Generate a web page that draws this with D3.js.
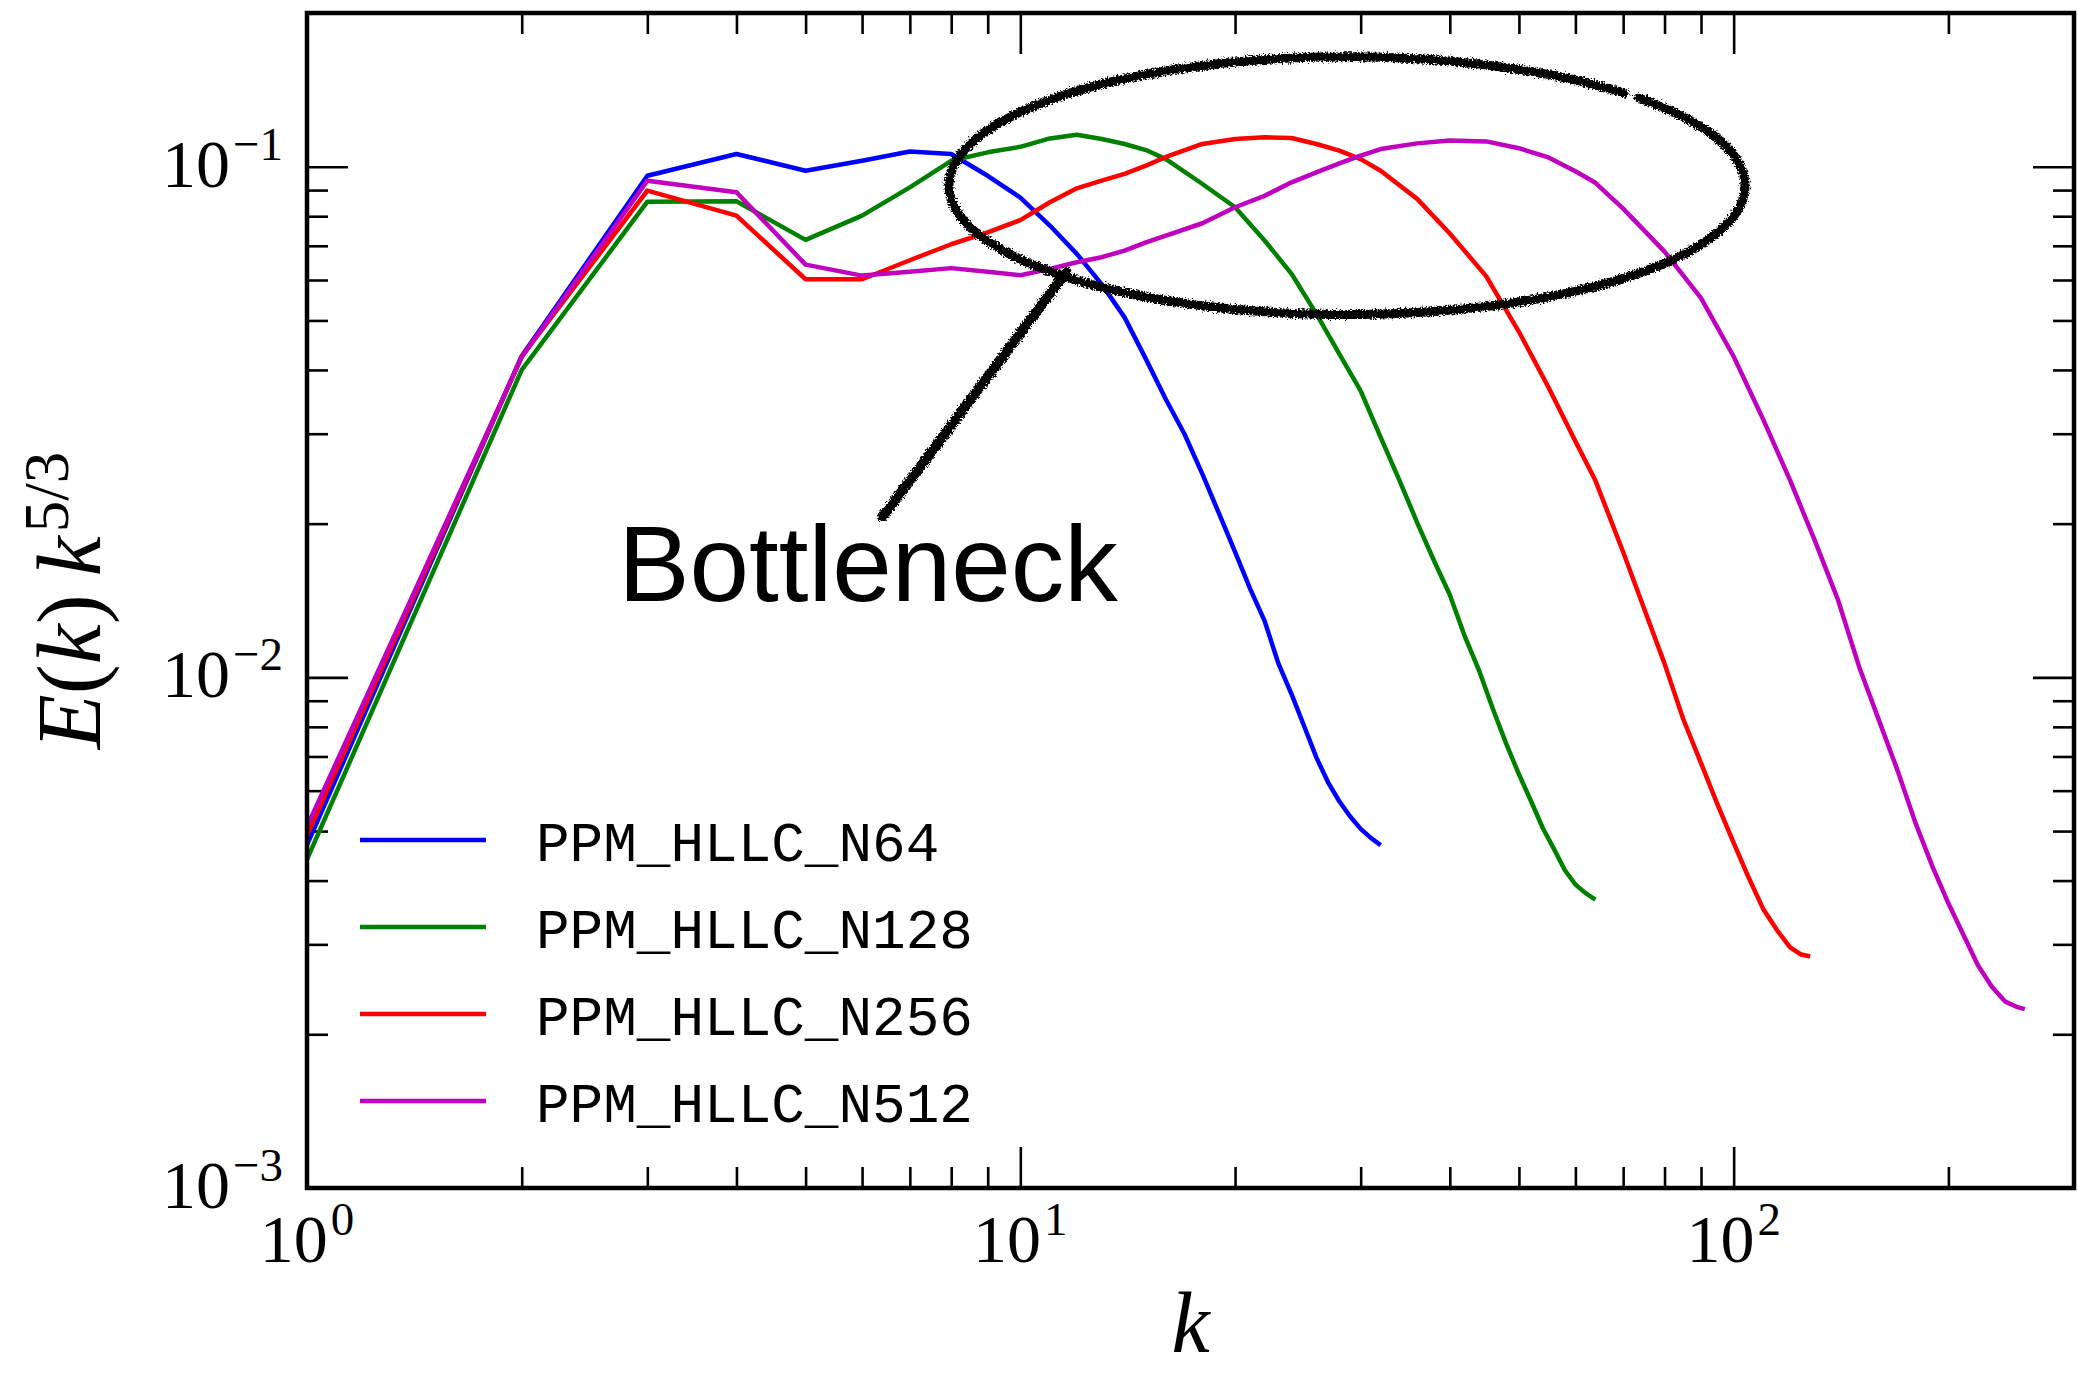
<!DOCTYPE html>
<html lang="en">
<head>
<meta charset="UTF-8">
<title>Compensated energy spectra - bottleneck</title>
<script src="https://d3js.org/d3.v7.min.js"></script>
<style>
  body { margin: 0; background: #fff; }
  svg { display: block; }
</style>
</head>
<body>
<svg id="chart" width="2078" height="1373"></svg>
<script>
// compensated spectra E(k) k^(5/3)
const kN64 = [1,2,3,4,5,6,7,8,9,10,11,12,13,14,15,16,17,18,19,20,21,22,23,24,25,26,27,28,29,30,31,32];
const eN64 = [0.0047,0.0426,0.0960,0.1059,0.0982,0.1027,0.1071,0.1059,0.0960,0.0870,0.0767,0.0675,0.0589,0.0507,0.0420,0.0350,
              0.0299,0.0250,0.0209,0.0176,0.0149,0.0129,0.01065,0.00927,0.00802,0.00697,0.00623,0.00572,0.00534,0.00505,0.00485,0.00469];

const kN128 = [1,2,3,4,5,6,7,8,9,10,11,12,13,14,15,16,18,20,22,24,26,28,30,32,34,36,38,40,42,44,46,48,50,52,54,56,58,60,62,64];
const eN128 = [0.0044,0.0400,0.0854,0.0856,0.0719,0.0802,0.0911,0.1027,0.1067,0.1094,0.1136,0.1155,0.1133,0.1108,0.1078,0.1035,
               0.0925,0.0833,0.0717,0.0617,0.0515,0.0430,0.0364,0.0295,0.0243,0.0201,0.01694,0.01451,0.01201,0.01028,0.00865,0.00741,
               0.00646,0.00572,0.00507,0.00461,0.00419,0.00393,0.00378,0.00367];

const kN256 = [1,2,3,4,5,6,7,8,9,10,11,12,13,14,15,16,18,20,22,24,26,28,30,32,36,40,45,50,55,60,64,
               70,75,80,85,90,95,100,105,110,115,120,124,128];
const eN256 = [0.0049,0.0425,0.0898,0.0802,0.0602,0.0602,0.0656,0.0705,0.0744,0.0786,0.0852,0.0907,0.0939,0.0968,0.1005,0.1045,
               0.1108,0.1133,0.1142,0.1138,0.1108,0.1075,0.1035,0.0982,0.0865,0.0740,0.0610,0.0475,0.0370,0.0290,0.0243,
               0.0176,0.01356,0.01064,0.00828,0.00679,0.00562,0.00474,0.00405,0.00352,0.00320,0.00296,0.00287,0.00284];

const kN512 = [1,2,3,4,5,6,7,8,9,10,11,12,13,14,15,16,18,20,22,24,26,28,30,32,36,40,45,50,55,60,64,
               70,80,90,100,110,120,130,140,150,160,170,180,190,200,210,220,230,240,250,256];
const eN512 = [0.0051,0.0424,0.0939,0.0891,0.0643,0.0612,0.0623,0.0633,0.0623,0.0613,0.0631,0.0650,0.0665,0.0685,0.0711,0.0733,
               0.0775,0.0833,0.0877,0.0932,0.0975,0.1015,0.1051,0.1083,0.1111,0.1125,0.1121,0.1087,0.1043,0.0980,0.0930,
               0.0828,0.0682,0.0553,0.0425,0.0320,0.0243,0.0185,0.0142,0.01047,0.00821,0.00653,0.00517,0.00426,0.00361,0.00313,
               0.00273,0.00248,0.00232,0.00226,0.00224];

const seriesNames  = ["PPM_HLLC_N64", "PPM_HLLC_N128", "PPM_HLLC_N256", "PPM_HLLC_N512"];
const seriesColors = ["#0000ff", "#008000", "#ff0000", "#bf00bf"];
const seriesK = [kN64, kN128, kN256, kN512];
const seriesE = [eN64, eN128, eN256, eN512];

const xDomain = [1, 300];
const yDomain = [1e-3, 0.2];
const xMajor = [1, 10, 100];
const yMajor = [1e-3, 1e-2, 1e-1];

// annotation, in data coordinates (k, E k^5/3)
const noteText = "Bottleneck";
const noteAt = [2.73, 0.0141];
const pointerFrom = [6.41, 0.0206];
const pointerTo = [11.6, 0.0623];
const ringCenter = [28.7, 0.0918];
const ringHalfDecades = [0.558, 0.2524];

const serif = "'Liberation Serif', 'Times New Roman', serif";
const margin = { top: 13, right: 4, bottom: 185, left: 307 };
const width = 2078 - margin.left - margin.right;
const height = 1373 - margin.top - margin.bottom;

const svg = d3.select("#chart");
svg.append("rect").attr("width", 2078).attr("height", 1373).attr("fill", "#fff");

const defs = svg.append("defs");
defs.append("clipPath").attr("id", "plotclip")
    .append("rect").attr("width", width).attr("height", height);
const rough = defs.append("filter").attr("id", "rough")
    .attr("x", "-5%").attr("y", "-10%").attr("width", "110%").attr("height", "120%");
rough.append("feTurbulence").attr("type", "fractalNoise").attr("baseFrequency", 0.6)
    .attr("numOctaves", 2).attr("seed", 7).attr("result", "noise");
rough.append("feDisplacementMap").attr("in", "SourceGraphic").attr("in2", "noise")
    .attr("scale", 7).attr("xChannelSelector", "R").attr("yChannelSelector", "G");

const plot = svg.append("g").attr("transform", `translate(${margin.left},${margin.top})`);

const x = d3.scaleLog().domain(xDomain).range([0, width]);
const y = d3.scaleLog().domain(yDomain).range([height, 0]);

const isMajor = v => Math.abs(Math.log10(v) - Math.round(Math.log10(v))) < 1e-9;
const xMinor = x.ticks().filter(v => !isMajor(v));
const yMinor = y.ticks().filter(v => !isMajor(v));

// inward ticks on all four sides
function ticks(axis, values, size, transform) {
    const g = plot.append("g").attr("transform", transform)
        .call(axis.tickValues(values).tickSize(-size).tickFormat(() => ""));
    g.select(".domain").remove();
    g.selectAll(".tick line").attr("stroke", "#000").attr("stroke-width", 2.6);
}
ticks(d3.axisBottom(x), xMajor, 41, `translate(0,${height})`);
ticks(d3.axisBottom(x), xMinor, 21, `translate(0,${height})`);
ticks(d3.axisTop(x), xMajor, 41, "translate(0,0)");
ticks(d3.axisTop(x), xMinor, 21, "translate(0,0)");
ticks(d3.axisLeft(y), yMajor, 41, "translate(0,0)");
ticks(d3.axisLeft(y), yMinor, 21, "translate(0,0)");
ticks(d3.axisRight(y), yMajor, 41, `translate(${width},0)`);
ticks(d3.axisRight(y), yMinor, 21, `translate(${width},0)`);

// power-of-ten labels
function powerLabel(sel) {
    sel.each(function (d) {
        const t = d3.select(this);
        const e = Math.round(Math.log10(d));
        t.append("tspan").text("10");
        t.append("tspan").attr("dx", 3).attr("dy", -27).attr("font-size", 47)
            .text(e < 0 ? "\u2212" + (-e) : String(e));
    });
}
plot.append("g").selectAll("text").data(xMajor).join("text")
    .attr("x", d => x(d)).attr("y", height + 74)
    .attr("text-anchor", "middle").attr("font-family", serif).attr("font-size", 68)
    .call(powerLabel);
plot.append("g").selectAll("text").data(yMajor).join("text")
    .attr("x", -24).attr("y", d => y(d) + 20)
    .attr("text-anchor", "end").attr("font-family", serif).attr("font-size", 68)
    .call(powerLabel);

// data lines
const line = d3.line().x(d => x(d[0])).y(d => y(d[1]));
plot.append("g").attr("clip-path", "url(#plotclip)")
    .selectAll("path").data(seriesNames).join("path")
    .attr("d", (d, i) => line(d3.zip(seriesK[i], seriesE[i])))
    .attr("fill", "none")
    .attr("stroke", (d, i) => seriesColors[i])
    .attr("stroke-width", 4.5)
    .attr("stroke-linejoin", "round");

// frame
plot.append("rect").attr("width", width).attr("height", height)
    .attr("fill", "none").attr("stroke", "#000").attr("stroke-width", 4.5);

// legend
const legend = plot.append("g").attr("transform", "translate(53,827)");
const rows = legend.selectAll("g").data(seriesNames).join("g")
    .attr("transform", (d, i) => `translate(0,${i * 87})`);
rows.append("line").attr("x1", 0).attr("x2", 126)
    .attr("stroke", (d, i) => seriesColors[i]).attr("stroke-width", 4.5);
rows.append("text").attr("x", 176).attr("y", 21)
    .attr("font-family", "'Liberation Mono', 'Courier New', monospace")
    .attr("font-size", 56).text(d => d);

// hand-drawn bottleneck annotation
const ring = d3.range(0, 241).map(i => {
    const th = 0.80 + (2 * Math.PI - 0.05) * i / 240;
    return [
        Math.pow(10, Math.log10(ringCenter[0]) + ringHalfDecades[0] * Math.cos(th)),
        Math.pow(10, Math.log10(ringCenter[1]) + ringHalfDecades[1] * Math.sin(th))
    ];
});
const sketch = plot.append("g").attr("filter", "url(#rough)");
sketch.append("path").attr("d", line(ring))
    .attr("fill", "none").attr("stroke", "#000").attr("stroke-width", 9)
    .attr("stroke-linecap", "round");
sketch.append("path").attr("d", line([pointerFrom, pointerTo]))
    .attr("fill", "none").attr("stroke", "#000").attr("stroke-width", 10)
    .attr("stroke-linecap", "round");

plot.append("text").attr("x", x(noteAt[0])).attr("y", y(noteAt[1]))
    .attr("font-family", "'Liberation Sans', Arial, sans-serif")
    .attr("font-size", 107).text(noteText);

// axis titles
svg.append("text").attr("x", margin.left + width / 2).attr("y", 1352)
    .attr("text-anchor", "middle").attr("font-family", serif)
    .attr("font-size", 86).attr("font-style", "italic").text("k");

const yl = svg.append("text")
    .attr("transform", `translate(100,${margin.top + height / 2}) rotate(-90)`)
    .attr("text-anchor", "middle").attr("font-family", serif).attr("font-size", 90);
yl.append("tspan").attr("font-style", "italic").text("E");
yl.append("tspan").text("(");
yl.append("tspan").attr("font-style", "italic").text("k");
yl.append("tspan").text(")");
yl.append("tspan").attr("dx", 18).attr("font-style", "italic").text("k");
yl.append("tspan").attr("dx", 4).attr("dy", -32).attr("font-size", 63).text("5/3");
</script>
</body>
</html>
